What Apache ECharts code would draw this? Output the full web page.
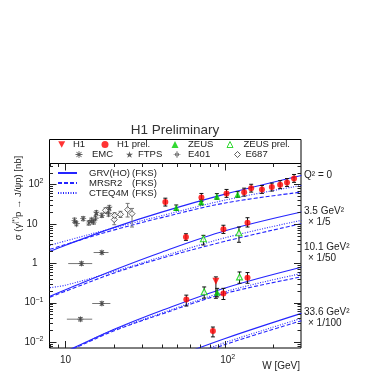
<!DOCTYPE html>
<html>
<head>
<meta charset="utf-8">
<script src="https://cdn.jsdelivr.net/npm/echarts@6/dist/echarts.min.js"></script>
<style>
  html, body { margin: 0; padding: 0; background: #fff; }
  #chart { width: 382px; height: 382px; }
</style>
</head>
<body>
<div id="chart"></div>
<script>
(function () {
  'use strict';

  // ---- data (values as plotted, lower groups already scaled) ----
  var curveW = [8, 10, 20, 40, 100, 300];
  var grvQ0    = [2.01, 2.86, 8.02, 19.8, 56.7, 169];
  var mrsQ0    = [2.26, 2.99, 6.93, 14.4, 33.8, 63.8];
  var cteqQ0   = [2.86, 3.67, 7.84, 16.1, 40.1, 94.4];
  var grvQ35   = [0.146, 0.213, 0.665, 1.91, 6.65, 19.9];
  var mrsQ35   = [0.138, 0.195, 0.559, 1.34, 3.61, 10.1];
  var cteqQ35  = [0.24, 0.277, 0.61, 1.46, 4.43, 12.3];
  var grvQ101  = [0.0045, 0.0058, 0.0207, 0.063, 0.236, 0.792];
  var mrsQ101  = [0.0043, 0.00558, 0.019, 0.0512, 0.171, 0.45];
  var cteqQ101 = [0.0045, 0.0058, 0.0201, 0.0542, 0.19, 0.548];
  var grvQ336  = [null, null, null, 0.00312, 0.0123, 0.0533];
  var mrsQ336  = [null, null, null, 0.0022, 0.00865, 0.0346];
  var cteqQ336 = [null, null, null, 0.00247, 0.0097, 0.0398];

  var h1W  = [87.5];
  var h1S  = [0.35];
  var h1Lo = [0.129];
  var h1Hi = [0.45];

  var h1pW  = [42.2, 71, 102, 131.5, 145.5, 170, 196, 221, 244, 270, 56.8, 97.5, 138, 57.1, 97.5, 138, 83.8];
  var h1pS  = [35.6, 46.8, 59.2, 63.8, 80.5, 74.7, 85.5, 98.9, 112, 142, 4.63, 7.26, 10.7, 0.12, 0.171, 0.43, 0.019];
  var h1pLo = [28.3, 37.1, 47.0, 50.6, 63.9, 59.3, 67.9, 78.5, 89, 113, 3.8, 5.7, 8.3, 0.082, 0.12, 0.31, 0.0135];
  var h1pHi = [44.8, 59.0, 74.6, 80.4, 101, 94, 108, 125, 141, 179, 5.6, 9.2, 14.3, 0.155, 0.23, 0.58, 0.024];

  var zeusW  = [49.4, 70.8, 88.7, 119.7, 89.1];
  var zeusS  = [25.7, 35.6, 49.7, 55.8, 0.181];
  var zeusLo = [21.9, 30.3, 42.3, 47.5, 0.14];
  var zeusHi = [30.1, 41.8, 58.4, 65.5, 0.23];

  var zeusPW  = [73.1, 122, 73.9, 123];
  var zeusPS  = [4.17, 5.92, 0.188, 0.45];
  var zeusPLo = [2.9, 3.4, 0.13, 0.31];
  var zeusPHi = [5.1, 8.3, 0.25, 0.6];

  var emcW   = [11.4, 12.9, 14.0, 15.0, 16.9, 12.6, 16.9, 16.9, 12.4];
  var emcS   = [12.3, 13.5, 10.5, 11.1, 16.4, 0.98, 1.87, 0.095, 0.038];
  var emcLo  = [10.8, 12.0, 9.3, 9.8, 14.5, 0.88, 1.7, 0.086, 0.034];
  var emcHi  = [14.0, 15.2, 11.9, 12.6, 18.6, 1.09, 2.05, 0.105, 0.042];
  var emcWLo = [null, null, null, null, null, 10.4, 15.0, 14.7, 10.2];
  var emcWHi = [null, null, null, null, null, 14.7, 18.6, 19.1, 14.7];

  var ftpsW  = [15.6, 18.8];
  var ftpsS  = [19.2, 25.7];
  var ftpsLo = [17.0, 22.5];
  var ftpsHi = [21.7, 29.4];

  var e401W  = [11.7, 14.5, 15.4, 18.6];
  var e401S  = [10.1, 12.3, 14.0, 18.1];
  var e401Lo = [8.9, 10.8, 12.4, 15.6];
  var e401Hi = [11.4, 14.0, 15.8, 21.0];

  var e687W  = [17.8, 20.2, 20.3, 22.1, 24.5, 26.1];
  var e687S  = [22.0, 12.8, 16.4, 17.4, 22.9, 18.1];
  var e687Lo = [19.0, 9.5, 14.0, 14.5, 14.9, 8.3];
  var e687Hi = [25.5, 17.0, 19.2, 20.8, 33.0, 24.6];

  // ---- layout / style ----
  var FONT = 'Liberation Sans, Arial, sans-serif';
  var RED = '#ff0000', GREEN = '#00d000', BLUE = '#2424ff', GRAY = '#3a3a3a', TXT = '#222';
  var X_MIN = 7.94, X_MAX = 298.5, Y_MIN = 0.00705, Y_MAX = 340;
  var GRV = 'GRV(HO) (FKS)', MRS = 'MRSR2 (FKS)', CTEQ = 'CTEQ4M (FKS)';

  var ASTER = 'path://M4.4,0H5.6V10H4.4Z M0,4.4H10V5.6H0Z M1,1.8L1.8,1L9,8.2L8.2,9Z M8.2,1L9,1.8L1.8,9L1,8.2Z';
  var STAR = 'path://M5,0L6.2,3.5L10,3.6L7,5.9L8.1,9.5L5,7.4L1.9,9.5L3,5.9L0,3.6L3.8,3.5Z';
  var OPLUS = 'path://M2,5A3,3,0,1,1,8,5A3,3,0,1,1,2,5Z M3.2,5A1.8,1.8,0,1,0,6.8,5A1.8,1.8,0,1,0,3.2,5Z M4.5,0H5.5V10H4.5Z M0,4.5H10V5.5H0Z';
  var DOWN = 'path://M0,0L10,0L5,9Z';

  var chart = echarts.init(document.getElementById('chart'));

  function pts(ws, ss) {
    var out = [];
    ws.forEach(function (w, i) {
      if (ss[i] != null) out.push([w, ss[i]]);
    });
    return out;
  }

  function curve(name, ss, dash) {
    return {
      type: 'line', name: name, data: pts(curveW, ss),
      symbol: 'none', smooth: 0.35, clip: true, z: 3, silent: true,
      lineStyle: { color: BLUE, width: 1.1, type: dash },
      itemStyle: { color: BLUE }
    };
  }

  function marks(name, ws, ss, symbol, size, style, rotate) {
    return {
      type: 'scatter', name: name, data: pts(ws, ss),
      symbol: symbol, symbolSize: size, symbolRotate: rotate || 0,
      itemStyle: style, z: 6, silent: true
    };
  }

  function errors(ws, ss, lo, hi, wlo, whi, color) {
    var data = ws.map(function (w, i) {
      return [w, lo[i], hi[i], (wlo && wlo[i]) || 0, (whi && whi[i]) || 0, ss[i]];
    });
    return {
      type: 'custom', data: data, encode: { x: 0, y: [1, 2] }, z: 5, silent: true,
      renderItem: function (params, api) {
        var st = { stroke: color, lineWidth: 1 };
        var a = api.coord([api.value(0), api.value(1)]);
        var b = api.coord([api.value(0), api.value(2)]);
        var kids = [
          { type: 'line', shape: { x1: a[0], y1: a[1], x2: b[0], y2: b[1] }, style: st },
          { type: 'line', shape: { x1: a[0] - 2, y1: a[1], x2: a[0] + 2, y2: a[1] }, style: st },
          { type: 'line', shape: { x1: b[0] - 2, y1: b[1], x2: b[0] + 2, y2: b[1] }, style: st }
        ];
        if (api.value(3) > 0) {
          var c = api.coord([api.value(3), api.value(5)]);
          var d = api.coord([api.value(4), api.value(5)]);
          kids.push({ type: 'line', shape: { x1: c[0], y1: c[1], x2: d[0], y2: d[1] }, style: st });
        }
        return { type: 'group', children: kids };
      }
    };
  }

  // inner tick marks on all four sides (ROOT style)
  var xTicks = [];
  var yTicks = [];
  for (var e = -3; e <= 3; e++) {
    for (var m = 1; m <= 9; m++) {
      var v = m * Math.pow(10, e);
      if (v > X_MIN && v < X_MAX) xTicks.push([v, 1, m === 1 ? 1 : 0]);
      if (v > Y_MIN && v < Y_MAX) yTicks.push([20, v, m === 1 ? 1 : 0]);
    }
  }

  function tickSeries(data, vertical) {
    return {
      type: 'custom', data: data, encode: { x: 0, y: 1 }, z: 7, silent: true,
      renderItem: function (params, api) {
        var cs = params.coordSys;
        var len = api.value(2) ? 7 : 3.5;
        var st = { stroke: '#222', lineWidth: 1 };
        var p = api.coord([api.value(0), api.value(1)]);
        if (vertical) {
          var y = Math.round(p[1]) + 0.5;
          return { type: 'group', children: [
            { type: 'line', shape: { x1: cs.x, y1: y, x2: cs.x + len, y2: y }, style: st },
            { type: 'line', shape: { x1: cs.x + cs.width, y1: y, x2: cs.x + cs.width - len, y2: y }, style: st }
          ] };
        }
        var x = Math.round(p[0]) + 0.5;
        return { type: 'group', children: [
          { type: 'line', shape: { x1: x, y1: cs.y + cs.height, x2: x, y2: cs.y + cs.height - len }, style: st },
          { type: 'line', shape: { x1: x, y1: cs.y, x2: x, y2: cs.y + len }, style: st }
        ] };
      }
    };
  }

  function decadeLabel(val, centred) {
    var ex = Math.log(val) / Math.LN10;
    var r = Math.round(ex);
    if (Math.abs(ex - r) > 1e-6) return '';
    if (r === 0) return centred ? '{b|1}' : '{b|1}{p|}';
    if (r === 1) return centred ? '{b|10}' : '{b|10}{p|}';
    var s = r < 0 ? '\u2212' + (-r) : String(r);
    return centred ? '{q|}{b|10}{s|' + s + '}' : '{b|10}{s|' + s + '}';
  }

  var labelRich = {
    b: { fontSize: 10, fontFamily: FONT, color: TXT, lineHeight: 13 },
    s: { fontSize: 7, fontFamily: FONT, color: TXT, verticalAlign: 'top' },
    p: { width: 6 },
    q: { width: 5 }
  };

  // legend slots: name, icon centre x, text start x, row centre y
  var legendSlots = [
    ['H1', 61.7, 73, 145.5], ['H1 prel.', 105, 117, 145.5],
    ['ZEUS', 175, 188, 145.5], ['ZEUS prel.', 230, 244, 145.5],
    ['EMC', 79, 92, 155.5], ['FTPS', 130, 138, 155.5],
    ['E401', 177, 188, 155.5], ['E687', 239, 246, 155.5]
  ];
  var legendIcons = { 'H1': DOWN, 'H1 prel.': 'circle', 'ZEUS': 'triangle' };
  var openIcons = { 'ZEUS prel.': GREEN, 'E687': GRAY };

  var legends = legendSlots.map(function (s) {
    var left = s[1] - 3.5;
    var pad = s[2] - (s[1] + 8.5);
    if (pad < 0) { left += pad; pad = 0; }
    var lg = {
      data: [s[0]], left: left, top: s[3] - 6, padding: 0,
      itemWidth: 7, itemHeight: 7, selectedMode: false,
      textStyle: { fontSize: 9.5, fontFamily: FONT, color: TXT, padding: [0, 0, 0, pad] }
    };
    if (legendIcons[s[0]]) lg.icon = legendIcons[s[0]];
    if (openIcons[s[0]]) {
      lg.itemWidth = 6;
      lg.itemHeight = 6;
      lg.itemStyle = { color: '#fff', borderColor: openIcons[s[0]], borderWidth: 1 };
    }
    return lg;
  });

  legends.push({
    data: [GRV, MRS, CTEQ], orient: 'vertical', left: 57, top: 168, padding: 0,
    itemWidth: 19, itemHeight: 9, itemGap: 0, selectedMode: false,
    itemStyle: { opacity: 0 },
    formatter: function (name) {
      var parts = name.split(' ');
      return '{a|' + parts[0] + '}{b|' + parts[1] + '}';
    },
    textStyle: {
      fontSize: 9.5, fontFamily: FONT, color: TXT, lineHeight: 9.5, padding: [0, 0, 0, 7],
      rich: {
        a: { fontSize: 9.5, fontFamily: FONT, color: TXT, width: 43, lineHeight: 9.5 },
        b: { fontSize: 9.5, fontFamily: FONT, color: TXT, lineHeight: 9.5 }
      }
    }
  });

  var notes = [
    ['Q\u00b2 = 0', 304, 175], ['3.5 GeV\u00b2', 304, 211], ['\u00d7 1/5', 308, 222],
    ['10.1 GeV\u00b2', 304, 247.5], ['\u00d7 1/50', 308, 258.5],
    ['33.6 GeV\u00b2', 304, 312], ['\u00d7 1/100', 308, 323]
  ];

  var graphics = [
    { type: 'rect', shape: { x: 49.5, y: 139.5, width: 251.5, height: 24 },
      style: { fill: 'none', stroke: '#000', lineWidth: 1 } },
    { type: 'text', x: 175, y: 130,
      style: { text: 'H1 Preliminary', fontSize: 13.5, fontFamily: FONT, fill: '#333',
               align: 'center', verticalAlign: 'middle' } },
    { type: 'text', x: 18, y: 198, rotation: Math.PI / 2,
      style: {
        text: '{a|\u03c3 (\u03b3}{s|(*)}{a|p \u2192 J/\u03c8p) [nb]}',
        align: 'center', verticalAlign: 'middle',
        rich: {
          a: { fontSize: 9.5, fontFamily: FONT, fill: TXT, lineHeight: 12 },
          s: { fontSize: 6.5, fontFamily: FONT, fill: TXT, verticalAlign: 'top' }
        }
      } },
    { type: 'text', x: 300, y: 366,
      style: { text: 'W [GeV]', fontSize: 10, fontFamily: FONT, fill: TXT,
               align: 'right', verticalAlign: 'middle' } }
  ];
  notes.forEach(function (n) {
    graphics.push({ type: 'text', x: n[1], y: n[2],
      style: { text: n[0], fontSize: 10, fontFamily: FONT, fill: TXT, verticalAlign: 'middle' } });
  });

  var options = {
    backgroundColor: '#fff',
    animation: false,
    textStyle: { fontFamily: FONT },
    grid: {
      left: 49.5, top: 163.5, width: 251.5, height: 184.5,
      show: true, borderColor: '#000', borderWidth: 1, backgroundColor: 'transparent'
    },
    legend: legends,
    graphic: graphics,
    xAxis: {
      type: 'log', logBase: 10, min: X_MIN, max: X_MAX,
      axisLine: { show: false }, axisTick: { show: false }, splitLine: { show: false },
      axisLabel: {
        margin: 6, showMinLabel: true, showMaxLabel: true,
        formatter: function (val) { return decadeLabel(val, true); },
        rich: labelRich
      }
    },
    yAxis: {
      type: 'log', logBase: 10, min: Y_MIN, max: Y_MAX,
      axisLine: { show: false }, axisTick: { show: false }, splitLine: { show: false },
      axisLabel: {
        margin: 6, showMinLabel: true, showMaxLabel: true,
        formatter: function (val) { return decadeLabel(val, false); },
        rich: labelRich
      }
    },
    series: [
      curve(GRV, grvQ0, 'solid'), curve(MRS, mrsQ0, [4, 2]), curve(CTEQ, cteqQ0, [1, 1.5]),
      curve(GRV, grvQ35, 'solid'), curve(MRS, mrsQ35, [4, 2]), curve(CTEQ, cteqQ35, [1, 1.5]),
      curve(GRV, grvQ101, 'solid'), curve(MRS, mrsQ101, [4, 2]), curve(CTEQ, cteqQ101, [1, 1.5]),
      curve(GRV, grvQ336, 'solid'), curve(MRS, mrsQ336, [4, 2]), curve(CTEQ, cteqQ336, [1, 1.5]),

      errors(emcW, emcS, emcLo, emcHi, emcWLo, emcWHi, '#777'),
      errors(ftpsW, ftpsS, ftpsLo, ftpsHi, null, null, '#777'),
      errors(e401W, e401S, e401Lo, e401Hi, null, null, '#777'),
      errors(e687W, e687S, e687Lo, e687Hi, null, null, '#777'),
      errors(h1W, h1S, h1Lo, h1Hi, null, null, '#111'),
      errors(h1pW, h1pS, h1pLo, h1pHi, null, null, '#111'),
      errors(zeusW, zeusS, zeusLo, zeusHi, null, null, '#111'),
      errors(zeusPW, zeusPS, zeusPLo, zeusPHi, null, null, '#111'),

      marks('H1', h1W, h1S, 'triangle', 7, { color: RED }, 180),
      marks('H1 prel.', h1pW, h1pS, 'circle', 6, { color: RED }),
      marks('ZEUS', zeusW, zeusS, 'triangle', 6.5, { color: GREEN }),
      marks('ZEUS prel.', zeusPW, zeusPS, 'triangle', 6,
        { color: '#fff', borderColor: GREEN, borderWidth: 1.1 }),
      marks('EMC', emcW, emcS, ASTER, 6, { color: GRAY }),
      marks('FTPS', ftpsW, ftpsS, STAR, 7, { color: GRAY }),
      marks('E401', e401W, e401S, OPLUS, 7, { color: GRAY }),
      marks('E687', e687W, e687S, 'diamond', 6, { color: '#fff', borderColor: GRAY, borderWidth: 1 }),

      tickSeries(xTicks, false),
      tickSeries(yTicks, true)
    ]
  };

  chart.setOption(options, true);
})();
</script>
</body>
</html>
